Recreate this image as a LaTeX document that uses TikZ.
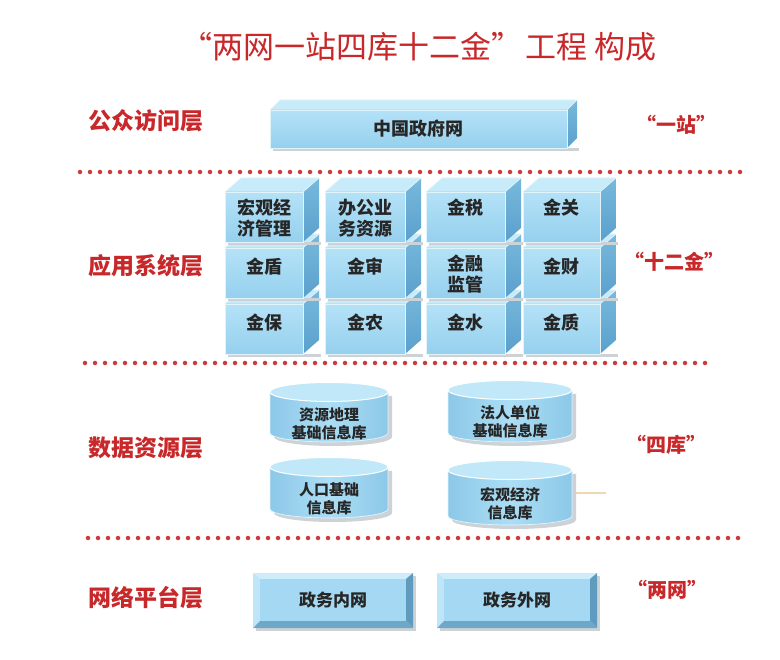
\documentclass[tikz,border=0pt]{standalone}
\usepackage{fontspec}
\newfontfamily\cjk{Noto Sans CJK SC}
\definecolor{redt}{RGB}{200,40,42}
\definecolor{dotred}{RGB}{205,58,58}
\definecolor{frontt}{RGB}{180,226,247}
\definecolor{frontb}{RGB}{150,208,238}
\definecolor{topc}{RGB}{200,235,250}
\definecolor{sidet}{RGB}{120,185,220}
\definecolor{sideb}{RGB}{90,160,205}
\definecolor{rim}{RGB}{225,244,252}
\definecolor{cylmid}{RGB}{172,222,245}
\definecolor{cylside}{RGB}{140,200,232}
\definecolor{cyltop}{RGB}{192,232,249}
\definecolor{bevl}{RGB}{205,237,250}
\definecolor{bevll}{RGB}{190,230,248}
\definecolor{bevr}{RGB}{95,155,190}
\definecolor{bevb}{RGB}{110,168,200}
\definecolor{face}{RGB}{165,216,242}
\definecolor{shd}{RGB}{205,210,215}
\definecolor{stray}{RGB}{240,215,180}
\def\bdx{16}\def\bdy{14}
\newcommand\blk[7]{%
  \fill[shd] ({#2+3},{#5}) rectangle ({#4+\bdx+2},{#5+3});
  \shade[top color=sidet, bottom color=sideb] (#4,#3) -- ({#4+\bdx},{#3-\bdy}) -- ({#4+\bdx},{#5-\bdy}) -- (#4,#5) -- cycle;
  \fill[topc] (#2,#3) -- ({#2+\bdx},{#3-\bdy}) -- ({#4+\bdx},{#3-\bdy}) -- (#4,#3) -- cycle;
  \shade[top color=frontt, bottom color=frontb] (#2,#3) rectangle (#4,#5);
  \draw[rim, line width=0.8pt] (#2,#3) rectangle (#4,#5);
  \draw[rim, line width=0.6pt] (#4,#3) -- ({#4+\bdx},{#3-\bdy}) -- ({#2+\bdx},{#3-\bdy}) -- (#2,#3);
  \node[btxt] (#1) at ({(#2+#4)/2},#7) {#6};
}
\newcommand\cyl[7]{%
  \fill[shd] ({#2-#3+4},{#4+4}) -- ({#2-#3+4},{#5+4}) arc[start angle=180, end angle=360, x radius=#3pt, y radius=9pt] -- ({#2+#3+4},{#4+4}) -- cycle;
  \shade[left color=cylside, right color=cylside, middle color=cylmid] ({#2-#3},#4) -- ({#2-#3},#5) arc[start angle=180, end angle=360, x radius=#3pt, y radius=9pt] -- ({#2+#3},#4) -- cycle;
  \draw[rim, line width=0.7pt] ({#2-#3},#4) -- ({#2-#3},#5) arc[start angle=180, end angle=360, x radius=#3pt, y radius=9pt] -- ({#2+#3},#4);
  \fill[cyltop] (#2,#4) ellipse[x radius=#3pt, y radius=9.5pt];
  \draw[white, line width=1pt] (#2,#4) ellipse[x radius=#3pt, y radius=9.5pt];
  \node[ctxt] (#1) at (#2,#7) {#6};
}
\newcommand\netbox[6]{%
  \fill[shd] ({#2+3},{#3+3}) rectangle ({#4+3},{#5+3});
  \fill[bevl] (#2,#3) -- (#4,#3) -- ({#4-7},{#3+6}) -- ({#2+7},{#3+6}) -- cycle;
  \fill[bevll] (#2,#3) -- ({#2+7},{#3+6}) -- ({#2+7},{#5-7}) -- (#2,#5) -- cycle;
  \fill[bevr] (#4,#3) -- (#4,#5) -- ({#4-7},{#5-7}) -- ({#4-7},{#3+6}) -- cycle;
  \fill[bevb] (#2,#5) -- (#4,#5) -- ({#4-7},{#5-7}) -- ({#2+7},{#5-7}) -- cycle;
  \fill[face] ({#2+7},{#3+6}) rectangle ({#4-7},{#5-7});
  \node[ntxt] (#1) at ({(#2+#4)/2},{(#3+#5)/2}) {#6};
}
\begin{document}
\begin{tikzpicture}[x=1pt,y=-1pt,
  title/.style={font=\cjk\fontsize{31}{33}\selectfont, text=redt},
  lbl/.style={font=\cjk\bfseries\fontsize{23}{25}\selectfont, text=redt},
  tag/.style={font=\cjk\bfseries\fontsize{20}{22}\selectfont, text=redt},
  btxt/.style={font=\cjk\bfseries\fontsize{18}{20.5}\selectfont, align=center, text=black!85},
  ctxt/.style={font=\cjk\bfseries\fontsize{15}{18}\selectfont, align=center, text=black!85},
  ntxt/.style={font=\cjk\bfseries\fontsize{17}{19}\selectfont, text=black!85},
  dots/.style={draw=dotred, line width=4.5pt, line cap=round, dash pattern=on 0pt off 10pt}]
\fill[white] (0,0) rectangle (780,660);
\useasboundingbox (0,0) rectangle (780,660);

\node[title] (ttl) at (419,47) {“两网一站四库十二金”\hspace{3pt}工程 构成};

% layer labels
\node[lbl] (l1) at (146,121) {公众访问层};
\node[lbl] (l2) at (146,266) {应用系统层};
\node[lbl] (l3) at (146,448) {数据资源层};
\node[lbl] (l4) at (146,598) {网络平台层};

\node[tag] (t1) at (676,125) {“一站”};
\node[tag] (t2) at (674,262) {“十二金”};
\node[tag] (t3) at (666,445) {“四库”};
\node[tag] (t4) at (667,590) {“两网”};

% dotted separators
\coordinate (d1a) at (80,172); \coordinate (d1b) at (742,172);
\coordinate (d2a) at (85,363); \coordinate (d2b) at (708,363);
\coordinate (d3a) at (88,538); \coordinate (d3b) at (745,538);
\draw[dots] (d1a) -- (d1b);
\draw[dots] (d2a) -- (d2b);
\draw[dots] (d3a) -- (d3b);

% public access
\def\bdx{10}\def\bdy{10}
\blk{gov}{270}{110}{567}{148}{中国政府网}{129}

% application blocks
\def\bdx{16}\def\bdy{14}
\blk{b31}{225}{304}{303}{354}{金保}{323}
\blk{b32}{325}{304}{405}{354}{金农}{323}
\blk{b33}{426}{304}{505}{354}{金水}{323}
\blk{b34}{523}{304}{600}{354}{金质}{323}
\blk{b21}{225}{248}{303}{298}{金盾}{267}
\blk{b22}{325}{248}{405}{298}{金审}{267}
\blk{b23}{426}{248}{505}{298}{金融\\监管}{274}
\blk{b24}{523}{248}{600}{298}{金财}{267}
\blk{b11}{225}{192}{303}{242}{宏观经\\济管理}{218}
\blk{b12}{325}{192}{405}{242}{办公业\\务资源}{218}
\blk{b13}{426}{192}{505}{242}{金税}{208}
\blk{b14}{523}{192}{600}{242}{金关}{208}

% databases
\cyl{c1}{329}{59}{392}{433}{资源地理\\基础信息库}{424}
\cyl{c2}{510}{62}{390}{433}{法人单位\\基础信息库}{422}
\cyl{c3}{329}{59}{467}{509}{人口基础\\信息库}{499}
\cyl{c4}{510}{62}{470}{516}{宏观经济\\信息库}{504}
\coordinate (s1) at (576,493); \coordinate (s2) at (606,493);
\draw[stray, line width=1.5pt] (s1) -- (s2);

% networks
\netbox{n1}{253}{573}{413}{628}{政务内网}
\netbox{n2}{437}{573}{597}{628}{政务外网}
\end{tikzpicture}
\end{document}
